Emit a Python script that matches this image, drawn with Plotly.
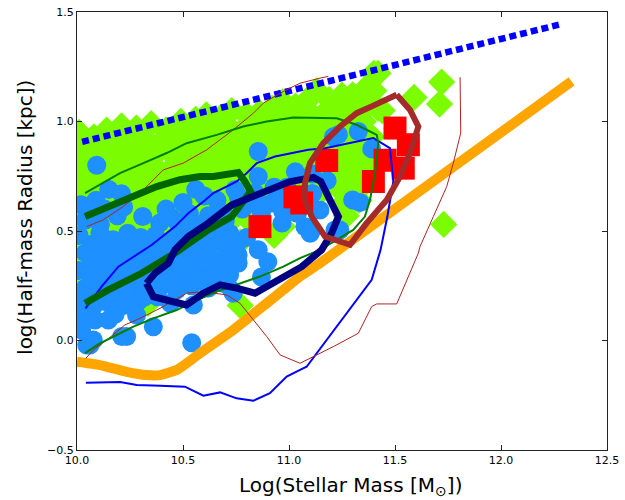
import plotly.graph_objects as go

# ---------------- data ----------------
diamond_x = [
    10.01, 10.08, 10.14, 10.21, 10.28, 10.35, 10.42, 10.49, 10.56, 10.61, 10.68, 10.73, 10.80, 10.86, 10.92, 10.97, 11.03, 11.09, 11.13, 11.19, 11.25, 11.30, 11.36, 11.40,
    10.04, 10.11, 10.18, 10.25, 10.32, 10.39, 10.46, 10.53, 10.60, 10.66, 10.72, 10.79, 10.85, 10.91, 10.98, 11.05, 11.11, 11.17, 11.24, 11.31, 11.38,
    10.01, 10.08, 10.15, 10.22, 10.29, 10.36, 10.43, 10.50, 10.57, 10.64, 10.70, 10.77, 10.83, 10.90, 10.96, 11.03, 11.09, 11.16, 11.22, 11.29, 11.35,
    10.04, 10.11, 10.18, 10.25, 10.32, 10.39, 10.46, 10.53, 10.60, 10.67, 10.73, 10.80, 10.87, 10.93, 11.00, 11.06, 11.13, 11.19, 11.26, 11.33, 11.39,
    10.01, 10.08, 10.15, 10.22, 10.29, 10.36, 10.43, 10.50, 10.57, 10.64, 10.70, 10.77, 10.84, 10.90, 10.97, 11.03, 11.10, 11.16, 11.23, 11.30, 11.36,
    10.04, 10.11, 10.18, 10.25, 10.32, 10.39, 10.46, 10.53, 10.60, 10.67, 10.73, 10.80, 10.87, 10.93, 11.00, 11.06, 11.13, 11.20, 11.26, 11.33, 11.38,
    10.01, 10.08, 10.15, 10.22, 10.29, 10.36, 10.43, 10.50, 10.57, 10.64, 10.70, 10.77, 10.84, 10.90, 10.97, 11.03, 11.10, 11.16, 11.23, 11.30, 11.36,
    10.04, 10.11, 10.18, 10.25, 10.32, 10.39, 10.46, 10.53, 10.60, 10.67, 10.73, 10.80, 10.97, 11.26, 11.33,
    10.01, 10.08, 10.15, 10.22, 10.29, 10.36, 10.43, 10.50, 10.57, 10.64, 10.70, 10.77, 10.93, 11.27,
    10.04, 10.11, 10.18, 10.25, 10.32, 10.39, 10.46, 10.53, 10.60, 10.67,
    10.02, 10.10, 10.20, 10.30, 10.40, 10.50, 10.60,
    10.335, 10.77, 11.73,
    11.42, 11.30, 11.40, 11.59, 11.72, 11.71, 11.44, 11.42,
]
diamond_y = [
    0.95, 0.93, 0.96, 0.98, 0.97, 0.99, 0.96, 1.00, 1.01, 1.03, 1.02, 1.05, 1.03, 1.04, 1.06, 1.09, 1.07, 1.10, 1.14, 1.10, 1.12, 1.12, 1.15, 1.22,
    0.88, 0.87, 0.90, 0.90, 0.92, 0.90, 0.93, 0.94, 0.95, 0.96, 0.97, 0.97, 0.98, 0.99, 1.00, 1.01, 1.03, 1.04, 1.05, 1.05, 1.08,
    0.82, 0.80, 0.83, 0.84, 0.85, 0.84, 0.87, 0.87, 0.88, 0.89, 0.90, 0.91, 0.91, 0.92, 0.93, 0.94, 0.96, 0.97, 0.97, 0.99, 1.00,
    0.75, 0.74, 0.77, 0.77, 0.78, 0.77, 0.80, 0.81, 0.81, 0.82, 0.83, 0.84, 0.85, 0.85, 0.86, 0.87, 0.89, 0.90, 0.91, 0.92, 0.93,
    0.68, 0.67, 0.70, 0.70, 0.71, 0.71, 0.73, 0.74, 0.74, 0.75, 0.76, 0.77, 0.78, 0.78, 0.79, 0.80, 0.82, 0.83, 0.84, 0.85, 0.86,
    0.61, 0.60, 0.63, 0.63, 0.64, 0.65, 0.66, 0.67, 0.67, 0.68, 0.69, 0.70, 0.71, 0.71, 0.72, 0.73, 0.75, 0.76, 0.77, 0.78, 0.79,
    0.54, 0.53, 0.56, 0.56, 0.57, 0.58, 0.59, 0.60, 0.60, 0.61, 0.62, 0.63, 0.64, 0.64, 0.65, 0.66, 0.68, 0.69, 0.70, 0.71, 0.72,
    0.47, 0.46, 0.49, 0.49, 0.50, 0.51, 0.52, 0.53, 0.53, 0.54, 0.55, 0.56, 0.52, 0.63, 0.64,
    0.40, 0.39, 0.42, 0.42, 0.43, 0.44, 0.45, 0.46, 0.46, 0.47, 0.48, 0.45, 0.48, 0.57,
    0.33, 0.32, 0.35, 0.35, 0.36, 0.37, 0.38, 0.39, 0.39, 0.40,
    0.26, 0.25, 0.27, 0.28, 0.30, 0.31, 0.32,
    0.17, 0.16, 0.53,
    1.22, 1.12, 1.14, 1.11, 1.18, 1.08, 1.05, 1.06,
]

circle_x = [
    10.093, 10.855, 11.233, 11.327, 11.39,
    10.02, 10.09, 10.15, 10.21, 10.50, 10.56, 10.60, 10.66, 10.745, 10.84, 10.855, 10.92, 11.03, 11.11, 11.18, 11.11,
    10.04, 10.11, 10.19, 10.31, 10.39, 10.45, 10.53, 10.62, 10.69, 10.78, 10.967, 11.075,
    10.01, 10.108, 10.17, 10.24, 10.30, 10.37, 10.45, 10.52, 10.59, 10.66, 10.72, 10.80,
    10.04, 10.11, 10.18, 10.25, 10.33, 10.40, 10.48, 10.55, 10.62, 10.70, 10.855, 10.76,
    10.01, 10.08, 10.15, 10.22, 10.29, 10.36, 10.44, 10.51, 10.58, 10.65, 10.76, 10.90,
    10.04, 10.11, 10.18, 10.25, 10.32, 10.40, 10.47, 10.54, 10.62, 10.69, 10.87, 10.73,
    10.014, 10.08, 10.15, 10.22, 10.29, 10.44, 10.549, 10.737,
    10.022, 10.085, 10.148, 10.281, 10.36, 10.211, 10.046, 10.061, 10.541,
    11.107, 11.217, 11.30, 11.335, 11.146, 11.10, 11.24, 11.21, 11.11,
    10.07, 10.13, 10.22, 10.42, 10.48, 10.57, 10.64, 10.70, 10.76, 10.80, 10.88, 10.96, 10.99, 10.93, 10.87, 10.97, 11.04, 11.03,
    10.07, 10.14, 10.21, 10.28, 10.34, 10.42, 10.50, 10.56, 10.63, 10.69, 10.76,
    10.07, 10.14, 10.21, 10.28, 10.35, 10.42, 10.48, 10.55, 10.62, 10.69,
    10.07, 10.14, 10.21, 10.28, 10.36, 10.43, 10.50, 10.58, 10.65, 10.72,
    10.03, 10.10, 10.17, 10.24, 10.32, 10.38,
    10.05, 10.18, 10.02, 10.234, 10.077,
]
circle_y = [
    0.80, 0.863, 0.94, 0.954, 0.875,
    0.62, 0.64, 0.69, 0.67, 0.63, 0.69, 0.66, 0.64, 0.688, 0.673, 0.749, 0.628, 0.77, 0.76, 0.73, 0.67,
    0.55, 0.53, 0.57, 0.566, 0.536, 0.56, 0.58, 0.57, 0.58, 0.60, 0.536, 0.519,
    0.48, 0.49, 0.46, 0.49, 0.47, 0.48, 0.46, 0.50, 0.48, 0.50, 0.49, 0.47,
    0.40, 0.41, 0.38, 0.40, 0.39, 0.41, 0.39, 0.41, 0.40, 0.43, 0.414, 0.39,
    0.32, 0.33, 0.31, 0.33, 0.31, 0.32, 0.31, 0.33, 0.31, 0.33, 0.353, 0.36,
    0.24, 0.25, 0.23, 0.25, 0.24, 0.25, 0.23, 0.25, 0.24, 0.26, 0.29, 0.23,
    0.155, 0.16, 0.17, 0.16, 0.18, 0.17, 0.162, 0.216,
    0.048, 0.094, 0.094, 0.116, 0.063, 0.018, -0.021, -0.021, -0.01,
    0.505, 0.505, 0.642, 0.63, 0.596, 0.49, 0.505, 0.93, 0.67,
    0.58, 0.60, 0.61, 0.60, 0.53, 0.53, 0.53, 0.55, 0.66, 0.62, 0.62, 0.64, 0.70, 0.70, 0.58, 0.59, 0.58, 0.65,
    0.44, 0.43, 0.44, 0.43, 0.44, 0.44, 0.44, 0.45, 0.45, 0.46, 0.45,
    0.36, 0.35, 0.36, 0.36, 0.36, 0.35, 0.35, 0.36, 0.36, 0.37,
    0.28, 0.28, 0.29, 0.28, 0.28, 0.28, 0.28, 0.28, 0.29, 0.30,
    0.20, 0.20, 0.21, 0.20, 0.20, 0.20,
    0.11, 0.12, 0.08, 0.018, 0.002,
]

square_x = [10.863, 11.028, 11.060, 11.178, 11.500, 11.563, 11.453, 11.398, 11.539]
square_y = [0.520, 0.656, 0.628, 0.822, 0.970, 0.894, 0.823, 0.726, 0.787]

dotted_x = [10.024, 12.286]
dotted_y = [0.907, 1.445]

orange_x = [10.0, 10.108, 10.234, 10.328, 10.392, 10.470, 10.517, 10.580, 10.659, 10.737, 10.816, 10.895, 10.973, 11.052, 11.146, 12.333]
orange_y = [-0.097, -0.112, -0.143, -0.158, -0.158, -0.135, -0.104, -0.058, -0.005, 0.048, 0.109, 0.170, 0.231, 0.292, 0.353, 1.183]

blue_thin_x = [10.04, 10.116, 10.195, 10.305, 10.352, 10.462, 10.525, 10.604, 10.643, 10.722, 10.753, 10.800, 10.848, 10.934, 11.013, 11.091, 11.170, 11.248, 11.330, 11.398, 11.476, 11.492, 11.464, 11.432, 11.390, 11.319, 11.256, 11.146, 11.083, 11.052, 10.989, 10.910, 10.832, 10.753, 10.675, 10.596, 10.509, 10.392, 10.282, 10.203, 10.042]
blue_thin_y = [0.147, 0.246, 0.337, 0.406, 0.436, 0.520, 0.581, 0.640, 0.673, 0.711, 0.726, 0.764, 0.810, 0.840, 0.856, 0.871, 0.878, 0.893, 0.910, 0.924, 0.878, 0.726, 0.566, 0.414, 0.277, 0.185, 0.101, -0.040, -0.120, -0.134, -0.165, -0.241, -0.275, -0.264, -0.237, -0.252, -0.211, -0.207, -0.203, -0.190, -0.193]

red_thin_x = [10.046, 10.124, 10.218, 10.313, 10.407, 10.501, 10.612, 10.737, 10.832, 10.879, 10.973, 11.052, 11.146, 11.186, None,
              11.807, 11.810, 11.775, 11.744, 11.681, 11.618, 11.610, 11.508, 11.461, 11.414, 11.390, 11.327, 11.209, 11.115, 11.052, 10.958, 10.895, 10.832, 10.769, 10.706, 10.596, 10.517, 10.392, 10.297, 10.226, 10.140, 10.077, 10.042]
red_thin_y = [0.520, 0.551, 0.612, 0.688, 0.779, 0.810, 0.871, 0.962, 1.038, 1.084, 1.137, 1.175, 1.198, 1.206, None,
              1.202, 0.947, 0.810, 0.703, 0.566, 0.429, 0.399, 0.167, 0.167, 0.167, 0.155, 0.033, -0.028, -0.074, -0.104, -0.066, 0.018, 0.094, 0.170, 0.208, 0.223, 0.216, 0.147, 0.101, 0.071, 0.002, -0.043, -0.081]

green_thin_x = [10.038, 10.108, 10.203, 10.313, 10.423, 10.517, 10.659, 10.784, 10.895, 11.021, 11.146, 11.225, 11.319, 11.414, 11.421, 11.406, 11.382, 11.358, 11.303, 11.209, 11.146, 11.052, 10.973, 10.863, 10.769, 10.659, 10.549, 10.470, 10.360, 10.266, 10.187, 10.108, 10.038]
green_thin_y = [0.673, 0.711, 0.764, 0.810, 0.856, 0.901, 0.939, 0.977, 1.000, 1.018, 1.015, 1.015, 0.985, 0.939, 0.901, 0.764, 0.642, 0.566, 0.505, 0.452, 0.414, 0.376, 0.337, 0.292, 0.261, 0.223, 0.177, 0.139, 0.101, 0.063, 0.025, -0.013, -0.058]

dkgreen_x = [10.038, 10.156, 10.266, 10.376, 10.486, 10.580, 10.643, 10.761, 10.792, 10.819, 10.730, 10.619, 10.462, 10.305, 10.148, 10.038]
dkgreen_y = [0.566, 0.612, 0.658, 0.703, 0.734, 0.749, 0.749, 0.767, 0.726, 0.680, 0.566, 0.505, 0.399, 0.307, 0.231, 0.170]

navy_x = [10.328, 10.368, 10.431, 10.462, 10.525, 10.619, 10.730, 10.863, 11.005, 11.115, 11.150, 11.193, 11.233, 11.201, 11.154, 11.060, 10.950, 10.840, 10.753, 10.675, 10.596, 10.517, 10.454, 10.360, 10.328]
navy_y = [0.261, 0.307, 0.353, 0.414, 0.475, 0.536, 0.619, 0.673, 0.726, 0.745, 0.726, 0.642, 0.566, 0.490, 0.414, 0.337, 0.277, 0.216, 0.239, 0.254, 0.216, 0.162, 0.177, 0.200, 0.261]

brown_x = [11.508, 11.461, 11.390, 11.319, 11.241, 11.162, 11.099, 11.075, 11.075, 11.107, 11.170, 11.288, 11.366, 11.461, 11.524, 11.571, 11.610, 11.571, 11.508]
brown_y = [1.122, 1.099, 1.069, 1.038, 0.977, 0.901, 0.810, 0.718, 0.642, 0.566, 0.475, 0.437, 0.536, 0.642, 0.749, 0.856, 0.977, 1.053, 1.122]

x_ticks = [10.0, 10.5, 11.0, 11.5, 12.0, 12.5]
y_ticks = [-0.5, 0.0, 0.5, 1.0, 1.5]

# ---------------- figure ----------------
fig = go.Figure()

fig.add_trace(go.Scatter(x=diamond_x, y=diamond_y, mode="markers",
                         marker=dict(symbol="diamond", size=21, color="#7CFC00", line=dict(width=0))))
fig.add_trace(go.Scatter(x=circle_x, y=circle_y, mode="markers",
                         marker=dict(symbol="circle", size=19, color="#1E90FF", line=dict(width=0))))
fig.add_trace(go.Scatter(x=square_x, y=square_y, mode="markers",
                         marker=dict(symbol="square", size=23, color="#FF0000", line=dict(width=0))))

fig.add_trace(go.Scatter(x=orange_x, y=orange_y, mode="lines",
                         line=dict(color="#FFA500", width=10, shape="spline", smoothing=0.4)))
fig.add_trace(go.Scatter(x=dotted_x, y=dotted_y, mode="lines",
                         line=dict(color="#0000FF", width=6.5, dash="7px,4px")))
fig.add_trace(go.Scatter(x=blue_thin_x, y=blue_thin_y, mode="lines",
                         line=dict(color="#0000FF", width=2)))
fig.add_trace(go.Scatter(x=red_thin_x, y=red_thin_y, mode="lines", connectgaps=False,
                         line=dict(color="#B22222", width=1)))
fig.add_trace(go.Scatter(x=green_thin_x, y=green_thin_y, mode="lines",
                         line=dict(color="#008000", width=2)))
fig.add_trace(go.Scatter(x=dkgreen_x, y=dkgreen_y, mode="lines",
                         line=dict(color="#006400", width=7)))
fig.add_trace(go.Scatter(x=navy_x, y=navy_y, mode="lines",
                         line=dict(color="#000080", width=7)))
fig.add_trace(go.Scatter(x=brown_x, y=brown_y, mode="lines",
                         line=dict(color="#A52A2A", width=6)))

axis_common = dict(showgrid=False, zeroline=False, showline=True, linecolor="#222222", linewidth=1,
                   mirror="ticks", ticks="inside", ticklen=5, tickcolor="#222222", tickwidth=1,
                   automargin=False,
                   tickfont=dict(family="DejaVu Sans", size=11, color="black"))

fig.update_layout(
    template="none",
    width=625, height=500,
    margin=dict(l=77, r=18, t=12, b=50, pad=0, autoexpand=False),
    paper_bgcolor="white", plot_bgcolor="white",
    showlegend=False,
    hovermode=False,
    font=dict(family="DejaVu Sans", color="black"),
    xaxis=dict(range=[10.0, 12.5], tickvals=x_ticks, ticktext=[f"{v:.1f}" for v in x_ticks], **axis_common),
    yaxis=dict(range=[-0.5, 1.5], tickvals=y_ticks, ticktext=[f"{v:.1f}".replace("-", "\u2212") for v in y_ticks], **axis_common),
    annotations=[
        dict(text="Log(Stellar Mass [M<sub>\u2299</sub>])", xref="paper", yref="paper",
             x=0.516, y=-0.083, xanchor="center", yanchor="middle", showarrow=False,
             font=dict(family="DejaVu Sans", size=20, color="black")),
        dict(text="log(Half-mass Radius [kpc])", xref="paper", yref="paper",
             x=-0.098, y=0.53, xanchor="center", yanchor="middle", showarrow=False, textangle=-90,
             font=dict(family="DejaVu Sans", size=20, color="black")),
    ],
)

fig.write_html("out.html", config={"displayModeBar": False},
               post_script="document.body.style.margin='0';document.body.style.overflow='hidden';")
